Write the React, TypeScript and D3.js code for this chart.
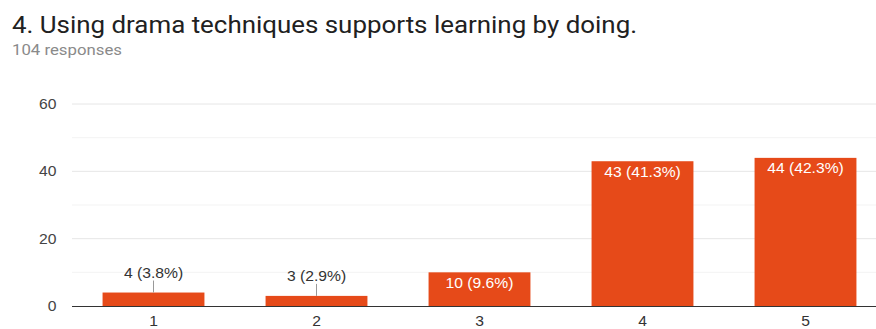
import React from "react";
import * as d3 from "d3";

const categories = ["1", "2", "3", "4", "5"];
const counts = [4, 3, 10, 43, 44];
const percents = ["3.8%", "2.9%", "9.6%", "41.3%", "42.3%"];
const majorTicks = [0, 20, 40, 60];
const minorTicks = [10, 30, 50];
const title = "4. Using drama techniques supports learning by doing.";
const subtitle = "104 responses";

const SX = 1.12;

function T(props: {
  x: number;
  y: number;
  size: number;
  fill: string;
  anchor?: string;
  children: React.ReactNode;
}) {
  return (
    <text
      transform={`translate(${props.x},${props.y}) scale(${SX},1)`}
      fontSize={props.size}
      fill={props.fill}
      textAnchor={props.anchor || "start"}
      fontFamily="'Liberation Sans', Arial, sans-serif"
    >
      {props.children}
    </text>
  );
}

export default function App() {
  const W = 876;
  const H = 329;
  const x = d3
    .scaleBand<string>()
    .domain(categories)
    .range([72, 887])
    .paddingInner(0.375)
    .paddingOuter(0.1875);
  const y = d3.scaleLinear().domain([0, 60]).range([306, 104]);
  const color = "#e64a19";
  return (
    <svg
      width={W}
      height={H}
      style={{ position: "absolute", left: 0, top: 0, background: "#fff" }}
    >
      <text
        x={12}
        y={32.5}
        fontSize={24}
        fill="#212121"
        fontFamily="Roboto, sans-serif"
        textLength={625}
        lengthAdjust="spacingAndGlyphs"
      >
        {title}
      </text>
      <text
        x={12}
        y={55}
        fontSize={15}
        fill="#8a8a8a"
        fontFamily="Roboto, sans-serif"
        textLength={110}
        lengthAdjust="spacingAndGlyphs"
      >
        {subtitle}
      </text>
      {minorTicks.map((t) => (
        <line key={"m" + t} x1={72} x2={W} y1={y(t)} y2={y(t)} stroke="#f3f3f3" strokeWidth={1} />
      ))}
      {majorTicks.map((t) => (
        <g key={"t" + t}>
          {t !== 0 && (
            <line x1={72} x2={W} y1={y(t)} y2={y(t)} stroke="#e6e6e6" strokeWidth={1} />
          )}
          <T x={56.5} y={y(t) + 5} size={14} fill="#444" anchor="end">
            {t}
          </T>
        </g>
      ))}
      {categories.map((c, i) => {
        const bx = x(c)!;
        const bw = x.bandwidth();
        const top = y(counts[i]);
        const cx = bx + bw / 2;
        const label = `${counts[i]} (${percents[i]})`;
        const inside = 306 - top > 25;
        return (
          <g key={c}>
            <rect x={bx} y={top} width={bw} height={306 - top} fill={color} />
            {inside ? (
              <T x={cx} y={top + 15.5} size={14} fill="#fff" anchor="middle">
                {label}
              </T>
            ) : (
              <g>
                <line x1={cx} x2={cx} y1={top - 12} y2={top} stroke="#999" strokeWidth={1} />
                <T x={cx} y={top - 15} size={14} fill="#333" anchor="middle">
                  {label}
                </T>
              </g>
            )}
            <T x={cx} y={326} size={14} fill="#333" anchor="middle">
              {c}
            </T>
          </g>
        );
      })}
      <line x1={72} x2={W} y1={306.5} y2={306.5} stroke="#333" strokeWidth={1} />
    </svg>
  );
}
